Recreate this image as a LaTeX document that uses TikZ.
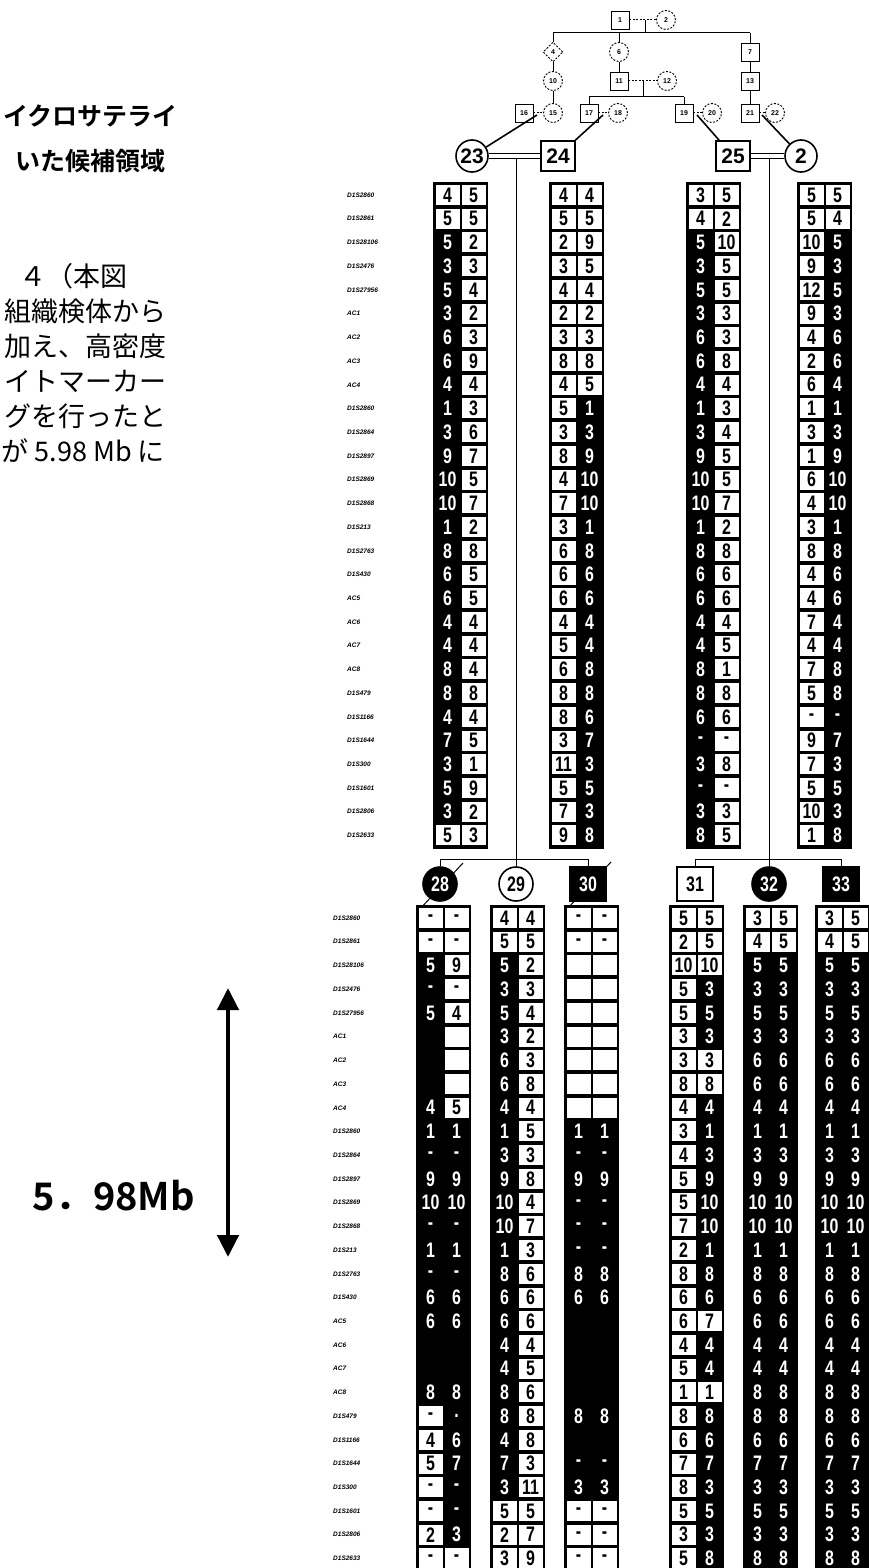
\documentclass[tikz,border=0pt]{standalone}
\usepackage{fontspec}
\setmainfont{Liberation Sans}
\newfontfamily\jp{Noto Sans CJK JP}[BoldFont={Noto Sans CJK JP Bold}]
\newfontfamily\cellfam{Liberation Sans}[FakeStretch=0.76]
\usetikzlibrary{arrows.meta,shapes.geometric}
\newcommand\rowpitch{23.72}
\newcommand\cellfont{\cellfam\bfseries\fontsize{21}{21}\selectfont}
\tikzset{
  wcell/.style={fill=white,minimum width=24pt,minimum height=20pt,inner sep=0pt,font=\cellfont,text=black},
  bcell/.style={inner sep=0pt,font=\cellfont,text=white},
  sqs/.style={draw,line width=0.9pt,minimum width=18pt,minimum height=18pt,inner sep=0pt,font=\bfseries\fontsize{7}{7}\selectfont,fill=white},
  cis/.style={draw,circle,line width=0.9pt,minimum size=19pt,inner sep=0pt,font=\bfseries\fontsize{7}{7}\selectfont,fill=white},
  dsh/.style={dash pattern=on 2pt off 1.5pt},
  bigs/.style={draw,line width=1.6pt,minimum width=34pt,minimum height=30pt,inner sep=0pt,font=\bfseries\fontsize{21}{21}\selectfont,fill=white},
  bigc/.style={draw,circle,line width=1.6pt,minimum size=32pt,inner sep=0pt,font=\bfseries\fontsize{21}{21}\selectfont,fill=white},
  lowsq/.style={draw,line width=1.6pt,minimum width=36pt,minimum height=34pt,inner sep=0pt,font=\cellfont},
  lowci/.style={draw,circle,line width=1.6pt,minimum size=34pt,inner sep=0pt,font=\cellfont},
  lbl/.style={anchor=west,inner sep=0pt,font=\bfseries\itshape\fontsize{6.5}{6.5}\selectfont},
  jtxt/.style={anchor=east,inner sep=0pt,font=\jp\fontsize{27}{27}\selectfont},
  jhead/.style={anchor=east,inner sep=0pt,font=\jp\bfseries\fontsize{25}{25}\selectfont},
  ln/.style={line width=1pt},
  thk/.style={line width=1.6pt}
}
% #1 name, #2 left x, #3 first row y, #4 frame bottom y, #5 rows
\newcommand{\hapcol}[5]{%
  \fill[black] (#2,#3-13) rectangle (#2+55,#4);
  \foreach \la/\lv/\ra/\rv [count=\i] in {#5}{%
    \pgfmathsetmacro\yy{#3+(\i-1)*\rowpitch}%
    \if\la w
      \node[wcell] (#1-\i-l) at (#2+14.5,\yy) {\lv};
    \else
      \node[bcell] (#1-\i-l) at (#2+14.5,\yy) {\lv};
    \fi
    \if\ra w
      \node[wcell] (#1-\i-r) at (#2+40.5,\yy) {\rv};
    \else
      \node[bcell] (#1-\i-r) at (#2+40.5,\yy) {\rv};
    \fi
  }%
}
\newcommand{\markerlist}{D1S2860,D1S2861,D1S28106,D1S2476,D1S27956,AC1,AC2,AC3,AC4,D1S2860,D1S2864,D1S2897,D1S2869,D1S2868,D1S213,D1S2763,D1S430,AC5,AC6,AC7,AC8,D1S479,D1S1166,D1S1644,D1S300,D1S1601,D1S2806,D1S2633}
\begin{document}
\begin{tikzpicture}[x=1pt,y=-1pt]
\useasboundingbox (0,0) rectangle (869,1568);
\fill[white] (0,0) rectangle (869,1568);

% ---------- left text ----------
\node[jhead] (t1) at (178,116) {イクロサテライ};
\node[jhead] (t2) at (166,161) {いた候補領域};
\node[jtxt] (t3) at (128,276) {４（本図};
\node[jtxt] (t4) at (167,311) {組織検体から};
\node[jtxt] (t5) at (167,346) {加え、高密度};
\node[jtxt] (t6) at (167,381) {イトマーカー};
\node[jtxt] (t7) at (167,416) {グを行ったと};
\node[jtxt] (t8) at (165,451) {が 5.98 Mb に};

% ---------- small pedigree ----------
\node[sqs] (p1) at (620,20) {1};
\node[cis,dsh] (p2) at (666,20) {2};
\draw[ln,dsh] (p1) -- (p2);
\coordinate (m12) at (645,20);
\coordinate (s1) at (645,33);
\draw[ln] (m12) -- (s1);
\coordinate (sA) at (553,33);
\coordinate (sM) at (619,33);
\coordinate (sB) at (750,33);
\draw[ln] (sA) -- (sB);
\node[diamond,draw,dsh,line width=0.9pt,minimum size=20pt,inner sep=0pt,fill=white,font=\bfseries\fontsize{7}{7}\selectfont] (p4) at (553,52) {4};
\node[cis,dsh] (p6) at (619,52) {6};
\node[sqs] (p7) at (750,52) {7};
\draw[ln] (sA) -- (p4);
\draw[ln] (sM) -- (p6);
\draw[ln] (sB) -- (p7);
\node[cis,dsh] (p10) at (553,81) {10};
\node[sqs] (p11) at (619,81) {11};
\node[cis,dsh] (p12) at (667,81) {12};
\node[sqs] (p13) at (750,81) {13};
\draw[ln] (p4) -- (p10);
\draw[ln] (p6) -- (p11);
\draw[ln] (p7) -- (p13);
\draw[ln,dsh] (p11) -- (p12);
\coordinate (m1112) at (643,81);
\coordinate (s2) at (643,97);
\draw[ln] (m1112) -- (s2);
\coordinate (s2a) at (589,97);
\coordinate (s2b) at (684,97);
\draw[ln] (s2a) -- (s2b);
\node[sqs] (p16) at (524,113) {16};
\node[cis,dsh] (p15) at (553,113) {15};
\node[sqs] (p17) at (589,113) {17};
\node[cis,dsh] (p18) at (618,113) {18};
\node[sqs] (p19) at (684,113) {19};
\node[cis,dsh] (p20) at (712,113) {20};
\node[sqs] (p21) at (750,113) {21};
\node[cis,dsh] (p22) at (775,113) {22};
\draw[ln] (p10) -- (p15);
\draw[ln] (p13) -- (p21);
\draw[ln] (s2a) -- (p17);
\draw[ln] (s2b) -- (p19);
\draw[ln,dsh] (p16) -- (p15);
\draw[ln,dsh] (p17) -- (p18);
\draw[ln,dsh] (p19) -- (p20);
\draw[ln,dsh] (p21) -- (p22);
\coordinate (mA) at (537,115);
\coordinate (mB) at (603,115);
\coordinate (mC) at (697,115);
\coordinate (mD) at (762,115);

% ---------- generation with haplotypes ----------
\node[bigc] (n23) at (472,156) {23};
\node[bigs] (n24) at (558,156) {24};
\node[bigs] (n25) at (733,156) {25};
\node[bigc] (n2) at (801,156) {2};
\draw[thk] (mA) -- (n23);
\draw[thk] (mB) -- (n24);
\draw[thk] (mC) -- (n25);
\draw[thk] (mD) -- (n2);
\draw[line width=1.4pt,double,double distance=3.5pt] (n23) -- (n24);
\draw[line width=1.4pt,double,double distance=3.5pt] (n25) -- (n2);
\coordinate (cA) at (516,158.5);
\coordinate (cB) at (769,158.5);
\coordinate (jA) at (516,859);
\coordinate (jB) at (769,859);

\hapcol{h23}{433}{195}{849}{w/4/w/5,w/5/w/5,b/5/w/2,b/3/w/3,b/5/w/4,b/3/w/2,b/6/w/3,b/6/w/9,b/4/w/4,b/1/w/3,b/3/w/6,b/9/w/7,b/10/w/5,b/10/w/7,b/1/w/2,b/8/w/8,b/6/w/5,b/6/w/5,b/4/w/4,b/4/w/4,b/8/w/4,b/8/w/8,b/4/w/4,b/7/w/5,b/3/w/1,b/5/w/9,b/3/w/2,w/5/w/3}
\hapcol{h24}{549}{195}{849}{w/4/w/4,w/5/w/5,w/2/w/9,w/3/w/5,w/4/w/4,w/2/w/2,w/3/w/3,w/8/w/8,w/4/w/5,w/5/b/1,w/3/b/3,w/8/b/9,w/4/b/10,w/7/b/10,w/3/b/1,w/6/b/8,w/6/b/6,w/6/b/6,w/4/b/4,w/5/b/4,w/6/b/8,w/8/b/8,w/8/b/6,w/3/b/7,w/11/b/3,w/5/b/5,w/7/b/3,w/9/b/8}
\hapcol{h25}{686}{195}{849}{w/3/w/5,w/4/w/2,b/5/w/10,b/3/w/5,b/5/w/5,b/3/w/3,b/6/w/3,b/6/w/8,b/4/w/4,b/1/w/3,b/3/w/4,b/9/w/5,b/10/w/5,b/10/w/7,b/1/w/2,b/8/w/8,b/6/w/6,b/6/w/6,b/4/w/4,b/4/w/5,b/8/w/1,b/8/w/8,b/6/w/6,b/-/w/-,b/3/w/8,b/-/w/-,b/3/w/3,b/8/w/5}
\hapcol{h2}{797}{195}{849}{w/5/w/5,w/5/w/4,w/10/b/5,w/9/b/3,w/12/b/5,w/9/b/3,w/4/b/6,w/2/b/6,w/6/b/4,w/1/b/1,w/3/b/3,w/1/b/9,w/6/b/10,w/4/b/10,w/3/b/1,w/8/b/8,w/4/b/6,w/4/b/6,w/7/b/4,w/4/b/4,w/7/b/8,w/5/b/8,w/-/b/-,w/9/b/7,w/7/b/3,w/5/b/5,w/10/b/3,w/1/b/8}

\foreach \m [count=\i] in \markerlist {
  \pgfmathsetmacro\yy{195+(\i-1)*\rowpitch}
  \node[lbl] (lt\i) at (347,\yy) {\m};
}

% vertical lines from couples
\draw[ln] (cA) -- (jA);
\draw[ln] (cB) -- (jB);

% ---------- children ----------
\coordinate (k28) at (440,859);
\coordinate (k30) at (588,859);
\coordinate (k31) at (695,859);
\coordinate (k33) at (841,859);
\draw[ln] (k28) -- (k30);
\draw[ln] (k31) -- (k33);
\coordinate (x28a) at (418,911);
\coordinate (x28b) at (463,863);
\coordinate (x30a) at (567,909);
\coordinate (x30b) at (611,862);
\draw[ln] (x28a) -- (x28b);
\draw[ln] (x30a) -- (x30b);
\node[lowci,fill=black,text=white] (n28) at (440,884) {28};
\node[lowci,fill=white] (n29) at (516,884) {29};
\node[lowsq,fill=black,text=white] (n30) at (588,884) {30};
\node[lowsq,fill=white] (n31) at (695,884) {31};
\node[lowci,fill=black,text=white] (n32) at (769,884) {32};
\node[lowsq,fill=black,text=white] (n33) at (841,884) {33};
\draw[ln] (k28) -- (n28);
\draw[ln] (jA) -- (n29);
\draw[ln] (k30) -- (n30);
\draw[ln] (k31) -- (n31);
\draw[ln] (jB) -- (n32);
\draw[ln] (k33) -- (n33);

\hapcol{h28}{416}{918}{1575}{w/-/w/-,w/-/w/-,b/5/w/9,b/-/w/-,b/5/w/4,b/{}/w/{},b/{}/w/{},b/{}/w/{},b/4/w/5,b/1/b/1,b/-/b/-,b/9/b/9,b/10/b/10,b/-/b/-,b/1/b/1,b/-/b/-,b/6/b/6,b/6/b/6,b/{}/b/{},b/{}/b/{},b/8/b/8,w/-/b/.,w/4/b/6,w/5/b/7,w/-/b/-,w/-/b/-,w/2/b/3,w/-/w/-}
\hapcol{h29}{490}{918}{1575}{w/4/w/4,w/5/w/5,b/5/w/2,b/3/w/3,b/5/w/4,b/3/w/2,b/6/w/3,b/6/w/8,b/4/w/4,b/1/w/5,b/3/w/3,b/9/w/8,b/10/w/4,b/10/w/7,b/1/w/3,b/8/w/6,b/6/w/6,b/6/w/6,b/4/w/4,b/4/w/5,b/8/w/6,b/8/w/8,b/4/w/8,b/7/w/3,b/3/w/11,w/5/w/5,w/2/w/7,w/3/w/9}
\hapcol{h30}{564}{918}{1575}{w/-/w/-,w/-/w/-,w/{}/w/{},w/{}/w/{},w/{}/w/{},w/{}/w/{},w/{}/w/{},w/{}/w/{},w/{}/w/{},b/1/b/1,b/-/b/-,b/9/b/9,b/-/b/-,b/-/b/-,b/-/b/-,b/8/b/8,b/6/b/6,b/{}/b/{},b/{}/b/{},b/{}/b/{},b/{}/b/{},b/8/b/8,b/{}/b/{},b/-/b/-,b/3/b/3,w/-/w/-,w/-/w/-,w/-/w/-}
\hapcol{h31}{669}{918}{1575}{w/5/w/5,w/2/w/5,w/10/w/10,w/5/b/3,w/5/b/5,w/3/b/3,w/3/w/3,w/8/w/8,w/4/b/4,w/3/b/1,w/4/b/3,w/5/b/9,w/5/b/10,w/7/b/10,w/2/b/1,w/8/b/8,w/6/b/6,w/6/w/7,w/4/b/4,w/5/b/4,w/1/w/1,w/8/b/8,w/6/b/6,w/7/b/7,w/8/b/3,w/5/b/5,w/3/b/3,w/5/b/8}
\hapcol{h32}{743}{918}{1575}{w/3/w/5,w/4/w/5,b/5/b/5,b/3/b/3,b/5/b/5,b/3/b/3,b/6/b/6,b/6/b/6,b/4/b/4,b/1/b/1,b/3/b/3,b/9/b/9,b/10/b/10,b/10/b/10,b/1/b/1,b/8/b/8,b/6/b/6,b/6/b/6,b/4/b/4,b/4/b/4,b/8/b/8,b/8/b/8,b/6/b/6,b/7/b/7,b/3/b/3,b/5/b/5,b/3/b/3,b/8/b/8}
\hapcol{h33}{815}{918}{1575}{w/3/w/5,w/4/w/5,b/5/b/5,b/3/b/3,b/5/b/5,b/3/b/3,b/6/b/6,b/6/b/6,b/4/b/4,b/1/b/1,b/3/b/3,b/9/b/9,b/10/b/10,b/10/b/10,b/1/b/1,b/8/b/8,b/6/b/6,b/6/b/6,b/4/b/4,b/4/b/4,b/8/b/8,b/8/b/8,b/6/b/6,b/7/b/7,b/3/b/3,b/5/b/5,b/3/b/3,b/8/b/8}

\foreach \m [count=\i] in \markerlist {
  \pgfmathsetmacro\yy{918+(\i-1)*\rowpitch}
  \node[lbl] (lb\i) at (333,\yy) {\m};
}

% ---------- scale arrow ----------
\coordinate (aT) at (228,988);
\coordinate (aB) at (228,1257);
\draw[line width=4.5pt,{Triangle[length=22pt,width=21pt]}-{Triangle[length=22pt,width=21pt]}] (aT) -- (aB);
\node[anchor=east,inner sep=0pt,font=\jp\bfseries\fontsize{38}{38}\selectfont] (mb) at (195,1196) {5．98Mb};
\end{tikzpicture}
\end{document}
